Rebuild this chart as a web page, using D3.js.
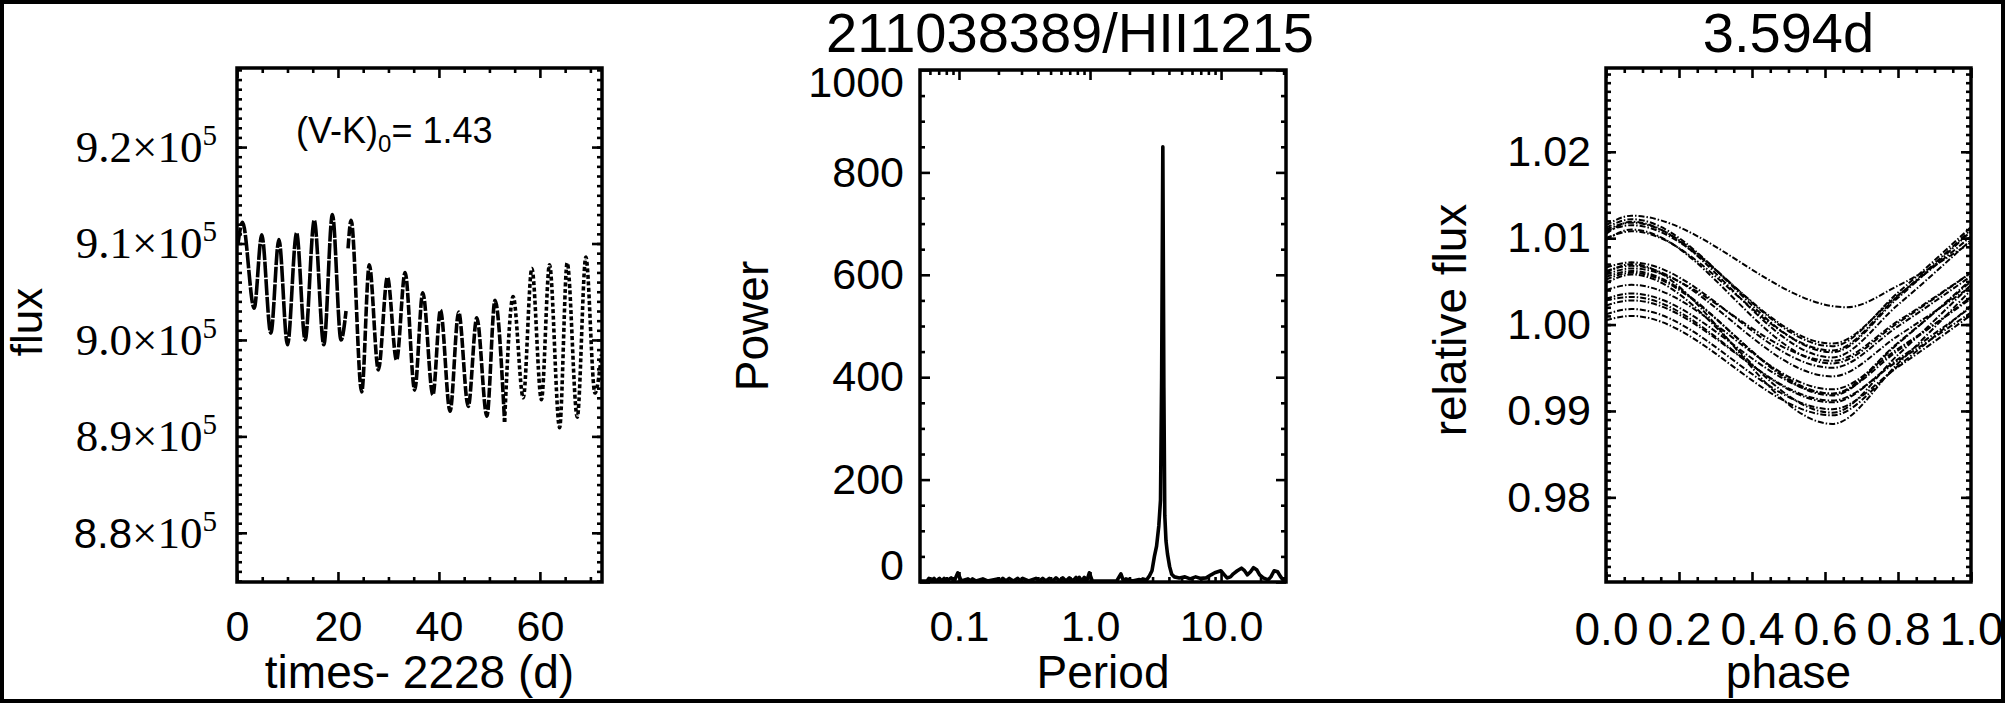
<!DOCTYPE html>
<html><head><meta charset="utf-8">
<script src="https://cdn.jsdelivr.net/npm/d3@7"></script>
<style>body{margin:0;background:#fff}svg{display:block}text{fill:#000}</style>
</head><body><svg id="c" width="2005" height="703"></svg>
<script>
// ---------------- data ----------------
const lcTime=[0.2,1.1,3.4,4.9,6.7,8.3,10.0,11.8,13.5,15.3,17.2,18.9,20.6,21.6,null,22.0,22.6,24.7,26.2,28.0,29.8,31.6,33.3,35.2,36.8,38.8,40.3,42.2,43.9,45.8,47.5,49.5,51.1,53.0,54.7,56.7,58.4,60.3,61.9,63.9,65.4,67.4,69.1,70.9,72.2];
const lcFlux=[9.100,9.122,9.033,9.109,9.007,9.104,8.995,9.111,9.000,9.124,8.995,9.130,9.000,9.030,null,9.095,9.124,8.946,9.078,8.969,9.065,8.979,9.070,8.948,9.049,8.943,9.031,8.926,9.029,8.931,9.023,8.921,9.041,8.915,9.045,8.940,9.074,8.938,9.078,8.909,9.080,8.920,9.086,8.945,8.985];
const lcStyleBreaks=[22,53];            // where the sampling of the light curve gets sparser
const lcXTicks=[0,20,40,60];
const lcYTicks=[8.8,8.9,9.0,9.1,9.2];
const lcYMantissa=["8.8","8.9","9.0","9.1","9.2"];
const lcExponent="5";
const lcNote=["(V-K)","0","= 1.43"];
const lcXLabel="times- 2228 (d)", lcYLabel="flux";

const pgPeriod=[0.0504,0.057,0.059,0.061,0.0645,0.067,0.071,0.074,0.077,0.080,0.087,0.092,0.098,0.104,0.117,0.122,0.127,0.135,0.152,0.165,0.197,0.206,0.216,0.228,0.242,0.26,0.281,0.293,0.306,0.34,0.387,0.41,0.435,0.46,0.489,0.52,0.55,0.585,0.619,0.655,0.695,0.74,0.782,0.805,0.829,0.865,0.905,0.945,0.988,1.04,1.6,1.72,1.8,1.88,2.1,2.38,2.45,2.53,2.7,2.84,2.97,3.10,3.22,3.35,3.45,3.52,3.594,3.66,3.72,3.8,3.9,4.05,4.2,4.4,4.8,5.3,5.8,6.4,7.0,7.7,8.4,8.95,9.96,10.6,11.1,11.8,12.4,13.3,14.3,15.1,15.9,16.8,17.7,18.7,19.7,21.0,22.8,24.0,25.4,27.0,28.2,29.5,31.3];
const pgPower=[2,2,7,2,7,2,7,2,7,2,8,2,18,2,6,2,6,2,6,2,6,2,7,2,7,2,7,2,7,2,7,2,7,2,7,2,8,2,8,2,8,2,9,2,9,2,9,2,18,2,2,16,2,6,2,5,3,6,4,12,22,50,70,110,160,400,850,380,130,80,55,30,15,10,8,10,6,10,7,8,14,18,22,14,8,10,16,22,27,22,14,20,28,24,14,8,4,10,22,20,12,5,2];
const pgXTicks=[0.1,1,10];
const pgXTickLabels=["0.1","1.0","10.0"];
const pgYTicks=[0,200,400,600,800,1000];
const pgXLabel="Period", pgYLabel="Power", pgTitle="211038389/HII1215";

const phKnots=[0,0.07,null,0.8,1.0];
const phTroughAt=[0.66,0.62,0.62,0.62,0.62,0.62,0.62,0.62,0.62,0.62,0.62,0.62,0.62,0.62,0.62,0.62,0.62,0.62,0.62,0.62];
const phStart =[1.0115,1.0108,1.0100,1.0110,1.0112,1.0105,1.0098,1.0066,1.0058,1.0062,1.0040,1.0028,1.0022,1.0012,1.0005,1.0030,1.0055,1.0060,1.0048,1.0052];
const phPeak  =[1.0126,1.0115,1.0108,1.0118,1.0122,1.0119,1.0110,1.0072,1.0065,1.0068,1.0046,1.0032,1.0028,1.0018,1.0010,1.0036,1.0062,1.0070,1.0058,1.0060];
const phTrough=[1.0020,0.9978,0.9970,0.9975,0.9968,0.9962,0.9955,0.9950,0.9958,0.9940,0.9925,0.9910,0.9912,0.9902,0.9895,0.9920,0.9918,0.9885,0.9898,0.9920];
const phRise  =[1.0045,1.0034,1.0033,1.0037,1.0031,1.0023,1.0002,0.9998,1.0004,0.9987,0.9972,0.9960,0.9958,0.9951,0.9952,0.9979,0.9978,0.9955,0.9965,0.9970];
const phEnd   =[1.0095,1.0102,1.0110,1.0113,1.0108,1.0098,1.0060,1.0056,1.0060,1.0044,1.0030,1.0020,1.0014,1.0011,1.0022,1.0050,1.0052,1.0040,1.0046,1.0032];
const phXTicks=[0,0.2,0.4,0.6,0.8,1.0];
const phYTicks=[0.98,0.99,1.00,1.01,1.02];
const phXLabel="phase", phYLabel="relative flux", phTitle="3.594d";

// ---------------- layout ----------------
const SANS='"Liberation Sans", Arial, Helvetica, sans-serif';
const SERIF='"Liberation Serif", "Times New Roman", serif';
const P1={x0:237,x1:602,y0:68,y1:582};
const P2={x0:920,x1:1286,y0:70,y1:582};
const P3={x0:1606,x1:1971,y0:68,y1:582};
const TICKF=43, AXF=46, TITF=56;

const svg=d3.select('#c');
svg.append('rect').attr('width',2005).attr('height',703).attr('fill','#fff');

const x1=d3.scaleLinear().domain([0,72.3]).range([P1.x0,P1.x1]);
const y1=d3.scaleLinear().domain([8.749,9.282]).range([P1.y1,P1.y0]);
const x2=d3.scaleLog().domain([0.0504,31.3]).range([P2.x0,P2.x1]);
const y2=d3.scaleLinear().domain([0,1000]).range([P2.y1,P2.y0]);
const x3=d3.scaleLinear().domain([0,1]).range([P3.x0,P3.x1]);
const y3=d3.scaleLinear().domain([0.9702,1.0297]).range([P3.y1,P3.y0]);

function clip(id,P){svg.append('clipPath').attr('id',id).append('rect').attr('x',P.x0).attr('y',P.y0).attr('width',P.x1-P.x0).attr('height',P.y1-P.y0);}
clip('c1',P1);clip('c2',P2);clip('c3',P3);

function ticks(P,scale,side,values,len){
  const ax=side==='bottom'?d3.axisBottom(scale):side==='top'?d3.axisTop(scale):side==='left'?d3.axisLeft(scale):d3.axisRight(scale);
  ax.tickValues(values).tickSize(-len).tickFormat('');
  const t=side==='bottom'?`translate(0,${P.y1})`:side==='top'?`translate(0,${P.y0})`:side==='left'?`translate(${P.x0},0)`:`translate(${P.x1},0)`;
  const g=svg.append('g').attr('transform',t).call(ax);
  g.select('.domain').remove();
  g.selectAll('line').attr('stroke','#000').attr('stroke-width',2.6);
}
function allTicks(P,xs,ys,xMaj,xMin,yMaj,yMin){
  ['bottom','top'].forEach(s=>{ticks(P,xs,s,xMaj,10);ticks(P,xs,s,xMin,5);});
  ['left','right'].forEach(s=>{ticks(P,ys,s,yMaj,10);ticks(P,ys,s,yMin,5);});
}
function frame(P){svg.append('rect').attr('x',P.x0).attr('y',P.y0).attr('width',P.x1-P.x0).attr('height',P.y1-P.y0).attr('fill','none').attr('stroke','#000').attr('stroke-width',3.5);}
function xLabels(P,scale,values,fmt,size,pad){
  const g=svg.append('g').attr('transform',`translate(0,${P.y1})`)
    .call(d3.axisBottom(scale).tickValues(values).tickSize(0).tickPadding(pad).tickFormat(fmt));
  g.select('.domain').remove();g.selectAll('line').remove();
  g.attr('font-size',size).attr('font-family',SANS);
  g.selectAll('text').attr('fill','#000');
  return g;
}
function yLabels(P,scale,values,fmt,pad){
  const g=svg.append('g').attr('transform',`translate(${P.x0},0)`)
    .call(d3.axisLeft(scale).tickValues(values).tickSize(0).tickPadding(pad).tickFormat(fmt));
  g.select('.domain').remove();g.selectAll('line').remove();
  g.attr('font-size',TICKF).attr('font-family',SANS);
  g.selectAll('text').attr('fill','#000');
  return g;
}
function rng(a,b,s){const o=[];for(let v=a;v<=b+1e-9;v+=s)o.push(+v.toFixed(6));return o;}
function axTitle(x,y,txt,rot,size){
  svg.append('text').attr('transform',`translate(${x},${y})`+(rot?' rotate(-90)':'')).attr('text-anchor','middle')
    .attr('font-family',SANS).attr('font-size',size||AXF).text(txt);
}

// ---------------- panel 1: light curve ----------------
const lcData=lcTime.map((t,i)=>({t:t,f:lcFlux[i]}));
const lcLine=d3.line().x(d=>x1(d.t)).y(d=>y1(d.f)).curve(d3.curveMonotoneX);
const lcDash=['16,1.5','10,2','4,2.5'];
[[-1,lcStyleBreaks[0]],[lcStyleBreaks[0],lcStyleBreaks[1]],[lcStyleBreaks[1],1e9]].forEach((r,k)=>{
  svg.append('path').datum(lcData).attr('clip-path','url(#c1)')
    .attr('d',lcLine.defined(d=>d.t!==null&&d.t>=r[0]&&d.t<=r[1])(lcData))
    .attr('fill','none').attr('stroke','#000').attr('stroke-width',3.6).attr('stroke-dasharray',lcDash[k]);
});
allTicks(P1,x1,y1,lcXTicks,rng(0,70,5).filter(v=>v%20),lcYTicks,rng(8.75,9.28,0.01));
frame(P1);
xLabels(P1,x1,lcXTicks,d=>String(d),TICKF,28);
const yl1=yLabels(P1,y1,lcYTicks,()=>'',20);
yl1.selectAll('.tick text').each(function(d,i){
  const t=d3.select(this).attr('font-family',SERIF).attr('font-size',45);
  t.append('tspan').attr('font-family',i===0?SANS:SERIF).attr('font-size',i===0?42:45).text(lcYMantissa[i]);
  t.append('tspan').text('×10');
  t.append('tspan').attr('font-size',29).attr('dy',-17).text(lcExponent);
});
const note=svg.append('text').attr('x',296).attr('y',143).attr('font-family',SANS).attr('font-size',36);
note.append('tspan').text(lcNote[0]);
note.append('tspan').attr('font-size',24).attr('dy',9).text(lcNote[1]);
note.append('tspan').attr('dy',-9).text(lcNote[2]);
axTitle((P1.x0+P1.x1)/2,688,lcXLabel,false);
axTitle(42,322,lcYLabel,true,44);

// ---------------- panel 2: periodogram ----------------
const pgData=pgPeriod.map((p,i)=>({p:p,v:pgPower[i]}));
svg.append('path').datum(pgData).attr('clip-path','url(#c2)')
  .attr('d',d3.line().x(d=>x2(d.p)).y(d=>y2(d.v)))
  .attr('fill','none').attr('stroke','#000').attr('stroke-width',3.6).attr('stroke-linejoin','round');
const logMinor=[];[0.01,0.1,1,10].forEach(dec=>{for(let k=2;k<=9;k++){const v=k*dec;if(v>0.0504&&v<31.3)logMinor.push(v);}});
allTicks(P2,x2,y2,pgXTicks,logMinor,pgYTicks,rng(0,1000,50).filter(v=>v%200));
frame(P2);
xLabels(P2,x2,pgXTicks,(d,i)=>pgXTickLabels[i],TICKF,28);
const yl2=yLabels(P2,y2,pgYTicks,d=>String(d),16);
yl2.selectAll('.tick').filter(d=>d===1000).select('text').attr('dy','0.62em');
yl2.selectAll('.tick').filter(d=>d===0).select('text').attr('dy','-0.05em');
svg.append('text').attr('x',1070).attr('y',52).attr('text-anchor','middle').attr('font-family',SANS).attr('font-size',TITF).text(pgTitle);
axTitle((P2.x0+P2.x1)/2,688,pgXLabel,false);
axTitle(768,326,pgYLabel,true);

// ---------------- panel 3: phased light curve ----------------
const phLine=d3.line().x(d=>x3(d[0])).y(d=>y3(d[1])).curve(d3.curveMonotoneX);
phStart.forEach((s,i)=>{
  const pts=[[phKnots[0],s],[phKnots[1],phPeak[i]],[phTroughAt[i],phTrough[i]],[phKnots[3],phRise[i]],[phKnots[4],phEnd[i]]];
  svg.append('path').attr('clip-path','url(#c3)').attr('d',phLine(pts))
    .attr('fill','none').attr('stroke','#000').attr('stroke-width',2).attr('stroke-dasharray','6,2,1.5,2');
});
allTicks(P3,x3,y3,phXTicks,rng(0,1,0.05).filter(v=>Math.abs(v*5-Math.round(v*5))>1e-6),phYTicks,rng(0.971,1.029,0.001));
frame(P3);
xLabels(P3,x3,phXTicks,d=>d3.format('.1f')(d),46,30);
yLabels(P3,y3,phYTicks,d=>d3.format('.2f')(d),15);
svg.append('text').attr('x',(P3.x0+P3.x1)/2).attr('y',52).attr('text-anchor','middle').attr('font-family',SANS).attr('font-size',TITF).text(phTitle);
axTitle((P3.x0+P3.x1)/2,688,phXLabel,false);
axTitle(1466,320,phYLabel,true);

// outer border
svg.append('rect').attr('x',2).attr('y',2).attr('width',2001).attr('height',699).attr('fill','none').attr('stroke','#000').attr('stroke-width',4);
</script></body></html>
